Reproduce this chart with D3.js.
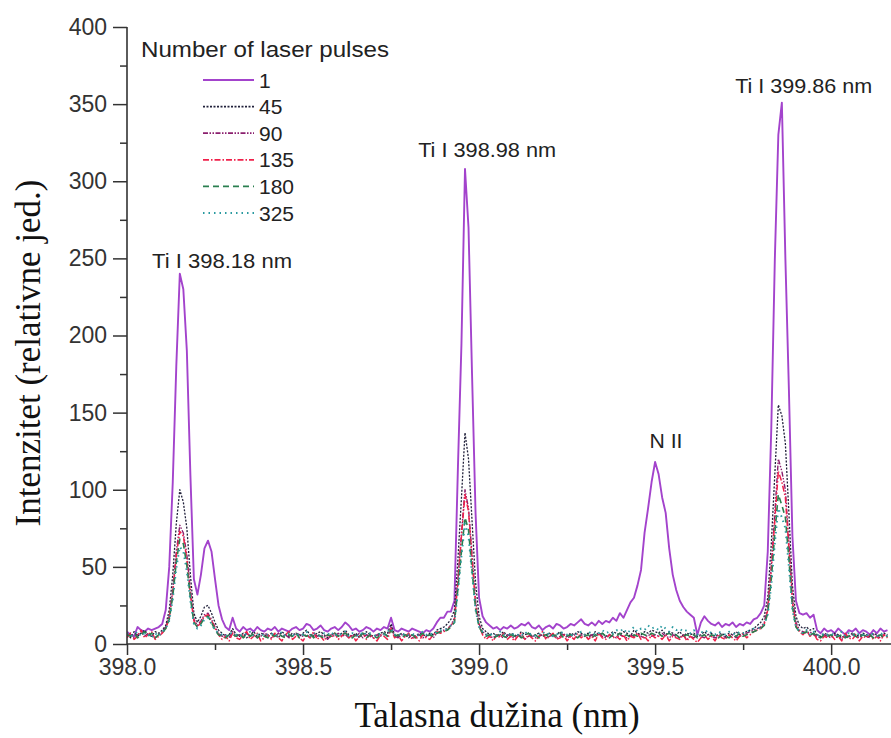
<!DOCTYPE html>
<html><head><meta charset="utf-8">
<script src="https://cdn.jsdelivr.net/npm/d3@7/dist/d3.min.js"></script>
<style>html,body{margin:0;padding:0;background:#fff;overflow:hidden}</style>
</head><body><svg id="chart" width="891" height="738"></svg>
<script>
// sampling grid of the spectra (nm)
const lambdaStart = 398.00, lambdaStep = 0.01;

// intensities (relative units) for each number of laser pulses
const pulses1 = [
8,6,5,11,9,8,10,9,10,11,
13,22,50,105,180,240,230,190,110,42,
32,45,62,67,60,42,25,16,11,9,
17,10,8,11,9,10,8,11,9,8,
10,9,11,8,10,9,8,10,11,9,
10,13,12,9,10,12,9,8,10,11,
9,11,14,12,9,10,8,9,11,10,
8,10,9,11,10,17,9,8,10,9,
8,10,9,8,7,9,8,10,14,17,
17,21,21,28,115,195,308,270,175,85,
30,18,14,12,10,11,9,11,10,12,
10,11,13,12,14,11,10,12,9,11,
12,10,13,12,10,11,13,12,14,16,
13,12,14,12,15,13,15,14,17,15,
20,17,22,27,30,38,48,72,88,105,
118,110,95,85,62,45,35,28,24,21,
19,17,6,14,18,15,13,12,14,11,
13,12,14,11,13,12,14,13,16,17,
20,25,60,140,249,330,351,250,165,70,
28,20,19,20,17,19,9,7,10,8,
9,7,10,8,6,9,8,10,7,9,
8,6,9,7,10,8,9];

const pulses45 = [
6,4,8,5,7,9,6,5,8,7,
9,12,22,45,78,100,92,75,45,20,
14,18,24,25,20,14,9,7,5,6,
10,6,5,7,4,6,8,5,7,6,
5,7,6,4,8,6,5,7,6,5,
7,9,6,5,7,8,6,4,6,7,
5,7,9,6,5,7,4,6,8,6,
5,6,7,8,7,13,6,5,7,6,
4,6,5,7,6,5,7,6,9,10,
11,13,16,22,55,95,137,120,80,40,
18,10,8,6,7,5,6,8,5,7,
6,5,8,6,7,5,6,7,5,6,
7,5,6,8,6,5,7,6,8,7,
6,7,5,8,6,7,5,6,8,7,
6,8,7,5,9,7,6,8,7,9,
8,7,9,6,8,7,6,8,5,7,
6,7,5,6,8,6,7,5,6,7,
5,7,6,8,6,7,8,9,10,12,
14,18,30,65,110,155,148,130,85,38,
18,12,10,11,9,10,6,5,7,6,
5,7,6,4,6,5,7,6,5,7,
6,5,7,6,5,7,6];

const pulses90 = [
5,7,4,6,8,5,7,6,4,6,
8,11,18,35,60,77,72,58,35,16,
12,15,19,20,16,11,7,5,6,4,
8,5,6,4,7,5,6,4,5,7,
6,4,5,7,5,6,4,5,7,6,
5,6,4,7,5,6,5,3,6,5,
7,5,6,4,6,5,7,4,6,5,
4,6,5,7,5,11,5,4,6,5,
6,4,5,6,4,5,6,4,7,8,
9,10,12,17,42,72,100,88,58,28,
13,8,6,5,4,6,5,4,6,5,
4,6,5,3,5,6,4,5,6,4,
5,6,4,5,7,4,5,6,4,6,
5,4,6,5,7,5,4,6,5,4,
6,5,4,6,5,7,5,4,6,5,
6,5,7,5,4,6,5,4,6,3,
5,4,6,5,4,6,5,4,5,6,
4,5,6,4,5,6,7,8,9,10,
11,14,24,50,85,120,112,100,66,30,
14,9,8,7,8,6,5,4,6,5,
4,6,5,3,5,4,6,5,4,6,
5,4,6,5,4,6,5];

const pulses135 = [
4,7,3,5,9,4,6,8,3,5,
7,10,17,33,57,73,70,55,32,15,
11,14,18,19,15,10,6,3,5,2,
7,4,3,6,8,3,5,7,2,4,
6,3,7,4,2,6,8,3,5,4,
2,6,4,8,3,5,2,6,4,7,
3,5,8,4,6,2,5,7,3,6,
4,2,6,5,3,10,4,6,2,5,
7,3,5,2,6,4,3,6,8,7,
8,9,12,15,40,70,97,86,55,26,
12,6,3,5,2,6,4,7,3,5,
2,5,7,3,6,4,2,5,8,3,
5,7,3,4,6,2,5,3,7,4,
6,3,5,2,7,4,3,6,4,5,
3,6,2,5,4,7,3,5,2,6,
4,5,3,6,2,5,4,3,6,2,
5,3,1,4,6,3,5,2,6,4,
3,6,4,2,5,7,4,6,8,9,
10,13,22,48,80,112,105,95,62,27,
12,8,6,9,5,7,3,2,5,4,
6,3,5,2,7,4,3,6,2,5,
4,6,3,5,2,6,4];

const pulses180 = [
6,5,7,4,6,8,5,7,4,6,
7,10,16,31,53,68,65,51,30,14,
11,13,17,18,14,9,6,5,4,6,
6,5,7,4,6,5,7,4,6,5,
4,6,5,7,5,4,6,5,7,4,
6,5,7,4,6,5,4,6,5,7,
5,6,7,5,4,6,5,7,4,6,
5,4,6,7,5,9,5,6,4,6,
5,6,4,5,7,5,6,5,7,8,
8,9,11,14,36,60,82,74,48,23,
11,7,5,6,4,5,7,5,4,6,
5,6,4,5,7,5,6,4,5,6,
4,6,5,7,4,5,6,5,4,6,
5,6,4,6,5,7,5,4,6,5,
7,5,6,4,6,5,7,6,5,7,
6,7,5,6,7,5,6,4,5,6,
5,6,4,5,6,4,6,5,4,6,
5,4,6,5,7,5,6,7,8,9,
10,12,20,42,72,97,90,82,55,24,
11,8,7,8,6,7,5,4,6,5,
6,4,5,6,4,5,7,5,4,6,
5,6,4,5,6,4,5];

const pulses325 = [
7,5,6,8,5,7,6,4,7,5,
8,10,15,29,49,63,60,47,28,13,
10,12,16,17,13,9,7,6,5,7,
7,6,5,7,6,8,5,6,7,5,
6,7,5,6,8,5,7,6,5,7,
6,8,5,7,6,5,7,6,8,5,
7,6,8,5,7,6,5,8,6,7,
6,5,7,6,8,10,6,7,5,7,
6,7,5,6,8,6,7,6,8,9,
9,10,12,14,34,57,78,70,45,22,
11,8,6,7,5,6,8,6,7,5,
7,6,5,8,6,7,5,6,8,6,
7,5,6,8,7,6,5,7,6,8,
6,7,8,6,7,9,7,8,7,9,
8,10,7,9,11,8,10,9,12,10,
11,9,12,10,8,11,9,10,8,9,
7,9,6,8,7,9,7,6,8,7,
6,8,7,6,8,7,8,9,10,10,
11,13,19,38,65,88,82,75,50,22,
11,8,7,9,6,8,6,5,7,6,
7,5,6,8,5,7,6,5,7,6,
5,7,6,5,7,6,5];

const seriesNames = ["1", "45", "90", "135", "180", "325"];
const seriesValues = [pulses1, pulses45, pulses90, pulses135, pulses180, pulses325];

const xMajorTicks = [398.0, 398.5, 399.0, 399.5, 400.0];
const xMinorTicks = [398.25, 398.75, 399.25, 399.75];
const yMajorTicks = [0, 50, 100, 150, 200, 250, 300, 350, 400];
const yMinorTicks = [25, 75, 125, 175, 225, 275, 325, 375];

const peakLabels = ["Ti I 398.18 nm", "Ti I 398.98 nm", "N II", "Ti I 399.86 nm"];
const peakLabelWl = [398.27, 399.023, 399.531, 399.922];
const peakLabelVal = [244, 316, 127, 357];
const peakLabelWidth = [140, 138, 33, 137];

const legendTitle = "Number of laser pulses";
const xTitle = "Talasna dužina (nm)";
const yTitle = "Intenzitet (relativne jed.)";

// ---------- styles ----------
const styles = [
  {color: "#a343cc", dash: null, width: 1.9},
  {color: "#20203a", dash: "2,1.5", width: 1.3},
  {color: "#8b1f6e", dash: "5,1.5,1.5,1.5,1.5,1.5", width: 1.4},
  {color: "#f0204a", dash: "6,2,1.5,2", width: 1.5},
  {color: "#2a7f4f", dash: "6,4", width: 1.6},
  {color: "#2a9aa0", dash: "1.5,4", width: 1.9}
];

const svg = d3.select("#chart");
const mLeft = 127, mRight = 891, mTop = 27, mBottom = 644;
const x = d3.scaleLinear().domain([398.0, 400.17]).range([mLeft, mRight]);
const y = d3.scaleLinear().domain([0, 400]).range([mBottom, mTop]);

svg.append("defs").append("clipPath").attr("id", "clip")
  .append("rect").attr("x", mLeft).attr("y", 0).attr("width", mRight - mLeft).attr("height", mBottom);

const plot = svg.append("g").attr("clip-path", "url(#clip)");
const line = d3.line()
  .x((d, i) => x(lambdaStart + i * lambdaStep))
  .y(d => y(d));

seriesValues.forEach((vals, k) => {
  plot.append("path")
    .datum(vals)
    .attr("fill", "none")
    .attr("stroke", styles[k].color)
    .attr("stroke-width", styles[k].width)
    .attr("stroke-dasharray", styles[k].dash)
    .attr("stroke-linejoin", "round")
    .attr("d", line);
});

const axisColor = "#333";
const tickFont = "'Liberation Sans', Arial, sans-serif";

// Y axis
const yAxis = svg.append("g").attr("transform", `translate(${mLeft},0)`)
  .call(d3.axisLeft(y).tickValues(yMajorTicks).tickSize(14).tickPadding(6).tickFormat(d3.format("d")));
const yMinor = svg.append("g").attr("transform", `translate(${mLeft},0)`)
  .call(d3.axisLeft(y).tickValues(yMinorTicks).tickSize(7).tickFormat(""));
// X axis
const xAxis = svg.append("g").attr("transform", `translate(0,${mBottom})`)
  .call(d3.axisBottom(x).tickValues(xMajorTicks).tickSize(11).tickPadding(4).tickFormat(d3.format(".1f")));
const xMinor = svg.append("g").attr("transform", `translate(0,${mBottom})`)
  .call(d3.axisBottom(x).tickValues(xMinorTicks).tickSize(6).tickFormat(""));

[yAxis, yMinor, xAxis, xMinor].forEach(g => {
  g.selectAll(".domain").attr("stroke", axisColor).attr("stroke-width", 1.6);
  g.selectAll(".tick line").attr("stroke", axisColor).attr("stroke-width", 1.5);
  g.selectAll("text").attr("fill", "#333").style("font-family", tickFont).style("font-size", "23px");
});
yMinor.select(".domain").remove();
xMinor.select(".domain").remove();
xAxis.select(".domain").attr("d", `M${mLeft},0H${mRight}`);
yAxis.select(".domain").attr("d", `M0,${mTop}V${mBottom}`);

// Axis titles
svg.append("text")
  .attr("x", 497).attr("y", 727)
  .attr("text-anchor", "middle")
  .style("font-family", "'Liberation Serif', 'Times New Roman', serif")
  .style("font-size", "35px").attr("fill", "#111")
  .text(xTitle);
svg.append("text")
  .attr("transform", "translate(40,353) rotate(-90)")
  .attr("text-anchor", "middle")
  .style("font-family", "'Liberation Serif', 'Times New Roman', serif")
  .style("font-size", "35px").attr("fill", "#111")
  .text(yTitle);

// Peak annotations
peakLabels.forEach((t, i) => {
  svg.append("text")
    .attr("x", x(peakLabelWl[i]) - peakLabelWidth[i] / 2).attr("y", y(peakLabelVal[i]))
    .attr("textLength", peakLabelWidth[i]).attr("lengthAdjust", "spacingAndGlyphs")
    .style("font-family", tickFont).style("font-size", "20px").attr("fill", "#222")
    .text(t);
});

// Legend
const lg = svg.append("g");
lg.append("text").attr("x", 141).attr("y", 57)
  .attr("textLength", 248).attr("lengthAdjust", "spacingAndGlyphs")
  .style("font-family", tickFont).style("font-size", "22px").attr("fill", "#222")
  .text(legendTitle);
seriesNames.forEach((n, k) => {
  const cy = 80 + k * 26.6;
  lg.append("line").attr("x1", 203).attr("x2", 254).attr("y1", cy).attr("y2", cy)
    .attr("stroke", styles[k].color).attr("stroke-width", styles[k].width + 0.3)
    .attr("stroke-dasharray", styles[k].dash);
  lg.append("text").attr("x", 259).attr("y", cy + 7.5)
    .style("font-family", tickFont).style("font-size", "21px").attr("fill", "#222")
    .text(n);
});
</script>
</body></html>
